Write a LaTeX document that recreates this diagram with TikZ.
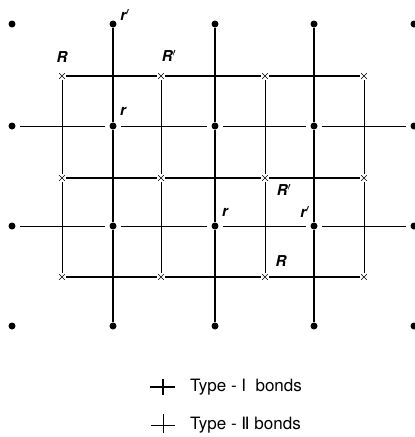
\documentclass[tikz,border=0pt]{standalone}
\usepackage{fontspec}
\setsansfont{TeX Gyre Heros}
\newfontfamily\dejavu{DejaVu Sans}
\usetikzlibrary{shapes.misc}
\tikzset{
  dot/.style={circle,fill=black,inner sep=0pt,minimum size=7pt},
  crs/.style={cross out,draw=black,line width=0.6pt,inner sep=0pt,minimum size=5pt},
  bondone/.style={line width=1.8pt},
  bondtwo/.style={line width=0.8pt},
  lab/.style={font=\sffamily\bfseries\itshape\fontsize{15}{15}\selectfont,inner sep=0pt},
  legtext/.style={font=\sffamily\fontsize{17}{17}\selectfont,anchor=west,inner sep=0pt}
}
\begin{document}
\begin{tikzpicture}[x=1pt,y=-1pt]
\useasboundingbox (0,0) rectangle (415,437);
% dots
\foreach \x [count=\i from 0] in {12,113,215,314,414}{
  \foreach \y [count=\j from 0] in {24,126,226,326}{
    \node[dot] (d\i\j) at (\x,\y) {};
  }
}
% crosses
\foreach \x [count=\i from 0] in {62,161,265,364}{
  \foreach \y [count=\j from 0] in {76,178,277}{
    \node[crs] (c\i\j) at (\x,\y) {};
  }
}
% type-I bonds: verticals through dots
\foreach \i in {1,2,3}{
  \draw[bondone] (d\i0) -- (d\i1) -- (d\i2) -- (d\i3);
}
% type-I bonds: horizontals through crosses
\foreach \j in {0,1,2}{
  \draw[bondone,shorten <=1.5pt,shorten >=1.5pt] (c0\j) -- (c1\j);
  \draw[bondone,shorten <=1.5pt,shorten >=1.5pt] (c1\j) -- (c2\j);
  \draw[bondone,shorten <=1.5pt,shorten >=1.5pt] (c2\j) -- (c3\j);
}
% type-II bonds: horizontals through dots
\foreach \j in {1,2}{
  \draw[bondtwo,shorten <=4pt,shorten >=4pt] (d0\j) -- (d1\j);
  \draw[bondtwo,shorten <=4pt,shorten >=4pt] (d1\j) -- (d2\j);
  \draw[bondtwo,shorten <=4pt,shorten >=4pt] (d2\j) -- (d3\j);
  \draw[bondtwo,shorten <=4pt,shorten >=4pt] (d3\j) -- (d4\j);
}
% type-II bonds: verticals through crosses
\foreach \i in {0,1,2,3}{
  \draw[bondtwo,shorten <=1pt,shorten >=1pt] (c\i0) -- (c\i1);
  \draw[bondtwo,shorten <=1pt,shorten >=1pt] (c\i1) -- (c\i2);
}
% labels
\node[lab] (l1) at (125,15) {r$'$};
\node[lab] (l2) at (62,57) {R};
\node[lab] (l3) at (169,56) {R$'$};
\node[lab] (l4) at (123,111) {r};
\node[lab] (l5) at (284,190) {R$'$};
\node[lab] (l6) at (225,212) {r};
\node[lab] (l7) at (305,212) {r$'$};
\node[lab] (l8) at (281,261) {R};
% legend
\draw[bondone] (150,387) -- (175,387);
\draw[bondone] (163,379) -- (163,395);
\draw[bondtwo] (151,425) -- (175,425);
\draw[bondtwo] (163,414) -- (163,433);
\node[legtext] (t1) at (190,387) {Type - I\ \ bonds};
\node[legtext] (t2) at (190,425) {Type - {\dejavu Ⅱ} bonds};
\end{tikzpicture}
\end{document}
